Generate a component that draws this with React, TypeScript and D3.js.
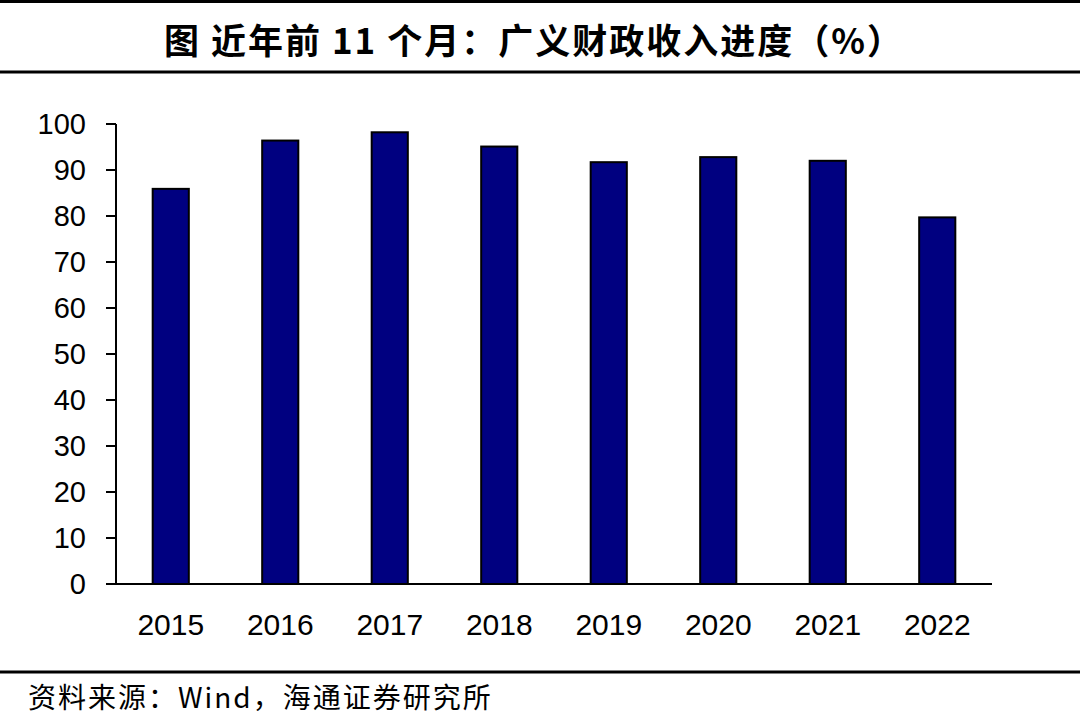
import React from "react";
import * as d3 from "d3";

const years = ["2015", "2016", "2017", "2018", "2019", "2020", "2021", "2022"];
const progress = [85.9, 96.4, 98.2, 95.1, 91.7, 92.8, 92.0, 79.7];
const yTicks = [0, 10, 20, 30, 40, 50, 60, 70, 80, 90, 100];
const title = "图  近年前 11 个月：广义财政收入进度（%）";
const source = "资料来源：Wind，海通证券研究所";

const W = 1080;
const H = 718;
const left = 116;
const right = 992;
const top = 124;
const bottom = 584;

export default function App() {
  const x = d3.scaleBand<string>().domain(years).range([left, right]).paddingInner(0.67).paddingOuter(0.335);
  const y = d3.scaleLinear().domain([0, 100]).range([bottom, top]);
  const latin = "Arial, 'Liberation Sans', sans-serif";
  const cjk = "'Noto Sans CJK SC', sans-serif";
  return (
    <svg width={W} height={H} style={{ position: "absolute", left: 0, top: 0, background: "#fff" }}>
      <line x1={0} x2={W} y1={1.5} y2={1.5} stroke="#000" strokeWidth={3} />
      <text x={164} y={38} textLength={738} lengthAdjust="spacing" dominantBaseline="central" fontFamily={cjk} fontWeight={600} fontSize={35} fill="#000">
        {title}
      </text>
      <line x1={0} x2={W} y1={72} y2={72} stroke="#000" strokeWidth={3} />

      {years.map((yr, i) => (
        <rect
          key={yr}
          x={x(yr)!}
          y={y(progress[i])}
          width={x.bandwidth()}
          height={bottom - y(progress[i])}
          fill="#000080"
          stroke="#000"
          strokeWidth={2}
        />
      ))}

      <line x1={left} x2={left} y1={top} y2={bottom} stroke="#000" strokeWidth={2} />
      {yTicks.map((t) => (
        <g key={t}>
          <line x1={left - 10} x2={left} y1={y(t)} y2={y(t)} stroke="#000" strokeWidth={2} />
          <text x={86} y={y(t)} textAnchor="end" dominantBaseline="central" fontFamily={latin} fontSize={29} fill="#000">
            {t}
          </text>
        </g>
      ))}
      <line x1={106} x2={right} y1={bottom} y2={bottom} stroke="#000" strokeWidth={2} />
      {years.map((yr) => (
        <text key={yr} x={x(yr)! + x.bandwidth() / 2} y={624} textAnchor="middle" dominantBaseline="central" fontFamily={latin} fontSize={30} fill="#000">
          {yr}
        </text>
      ))}

      <line x1={0} x2={W} y1={672} y2={672} stroke="#000" strokeWidth={3} />
      <text x={28} y={696} dominantBaseline="central" fontFamily={cjk} fontSize={28} letterSpacing={2} fill="#000">
        {source}
      </text>
    </svg>
  );
}
